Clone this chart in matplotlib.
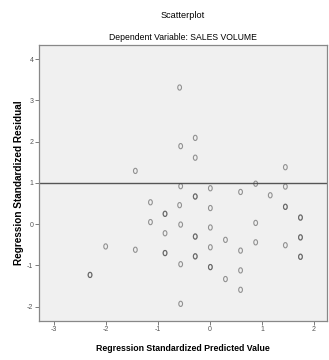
import matplotlib as mpl
import matplotlib.pyplot as plt
from matplotlib.path import Path
from matplotlib.transforms import Affine2D

# predicted value vs. residual (standardized); repeated pairs are overlapping cases
pred = [-0.58, -0.56, -0.28, -0.28, 1.45, -1.43,
        -0.56, 0.01, 0.59, 0.88, 1.16, 1.45, -0.28, -0.28,
        -1.14, -0.86, -0.86, -0.58, 0.01, 1.45, 1.45, 1.74, 1.74,
        -1.14, -0.56, 0.01, 0.88, -0.86, -0.28, -0.28, 0.30, 1.74, 1.74,
        0.88, 1.45, -2.00, -1.43, 0.01, 0.59, -0.86, -0.86, -0.28, -0.28,
        1.74, 1.74, -0.56, 0.01, 0.01, 0.59, -2.30, -2.30, 0.30, 0.59, -0.56]
resid = [3.31, 1.89, 2.09, 1.61, 1.38, 1.29,
         0.92, 0.87, 0.78, 0.98, 0.70, 0.91, 0.67, 0.67,
         0.53, 0.25, 0.25, 0.46, 0.39, 0.42, 0.42, 0.16, 0.16,
         0.05, -0.01, -0.08, 0.03, -0.22, -0.30, -0.30, -0.38, -0.32, -0.32,
         -0.44, -0.51, -0.54, -0.62, -0.56, -0.64, -0.70, -0.70, -0.78, -0.78,
         -0.79, -0.79, -0.97, -1.04, -1.04, -1.12, -1.23, -1.23, -1.33, -1.59, -1.93]

ref_line = 1.0
x_ticks = [-3, -2, -1, 0, 1, 2]
y_ticks = [-2, -1, 0, 1, 2, 3, 4]

plt.rcParams['font.family'] = ['Liberation Sans Narrow', 'Liberation Sans', 'DejaVu Sans']
plt.rcParams['axes.unicode_minus'] = False

# narrow open ring, like the SPSS "o" marker
ring = Path.unit_circle().transformed(Affine2D().scale(0.72, 1.0))

fig = plt.figure(figsize=(3.29, 3.6), dpi=100)
ax = fig.add_axes([0.1185, 0.109, 0.8755, 0.766])
ax.set_facecolor('#f0f0f0')

ax.axhline(ref_line, color='#555555', linewidth=1.0, zorder=1)
ax.scatter(pred, resid, marker=ring, s=14, facecolors='none',
           edgecolors='#444444', linewidths=0.8, alpha=0.55, zorder=2)

ax.set_xlim(-3.28, 2.25)
ax.set_ylim(-2.34, 4.34)
ax.set_xticks(x_ticks)
ax.set_yticks(y_ticks)
ax.tick_params(axis='both', labelsize=5, length=3, width=0.6,
               colors='#666666', labelcolor='#555555', pad=1)
for s in ax.spines.values():
    s.set_color('#888888')
    s.set_linewidth(0.9)

ax.set_xlabel('Regression Standardized Predicted Value', fontsize=6.3,
              fontweight='bold', labelpad=8)
ax.set_ylabel('Regression Standardized Residual', fontsize=7.2,
              fontweight='bold', labelpad=2)
fig.text(0.556, 0.958, 'Scatterplot', ha='center', va='center', fontsize=6.6)
fig.text(0.556, 0.897, 'Dependent Variable: SALES VOLUME', ha='center',
         va='center', fontsize=6.2)

fig.savefig('out.png', dpi=100)
